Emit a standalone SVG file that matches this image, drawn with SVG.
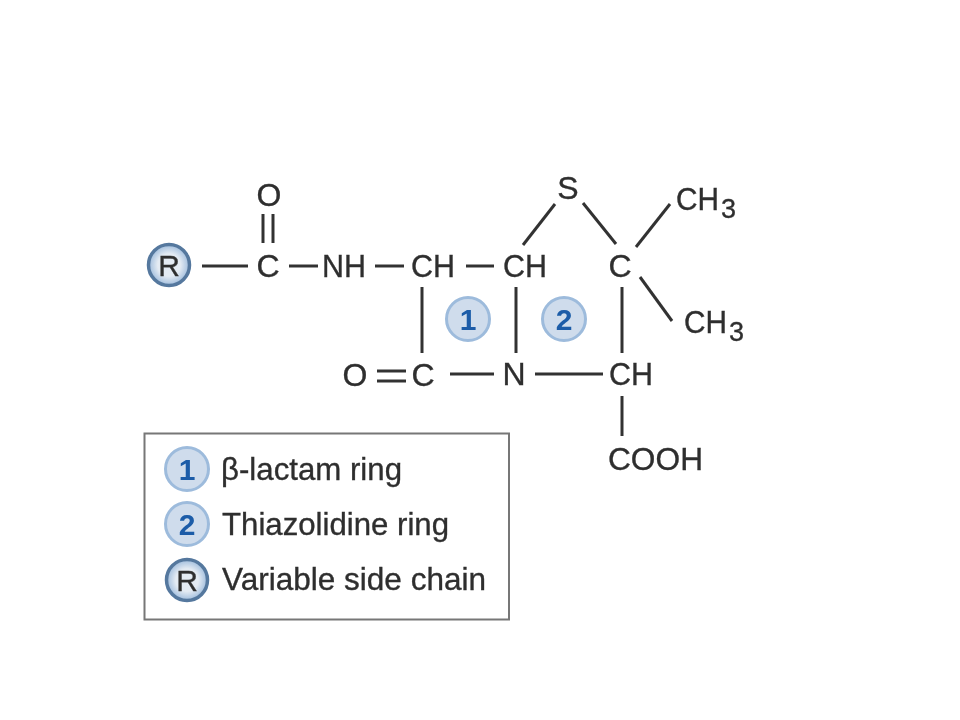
<svg xmlns="http://www.w3.org/2000/svg" width="960" height="720" viewBox="0 0 960 720">
<style>
text{font-family:"Liberation Sans",Arial,sans-serif;fill:#2f2f2f;stroke:#2f2f2f;stroke-width:.35px}
.a{font-size:32px}
.s{font-size:27px}
.l{font-size:32px}
.m{text-anchor:middle}
.n{font-size:30px;font-weight:bold;fill:#1a5ca8;stroke:none;text-anchor:middle}
.r{font-size:30px;text-anchor:middle}
.c{fill:#cfdcec;stroke:#9dbbdc;stroke-width:3}
.d{fill:url(#g);stroke:#55789e;stroke-width:3.5}
#connectors line{stroke:#333;stroke-width:3;fill:none}
</style>
<defs>
<filter id="b" x="-5%" y="-5%" width="110%" height="110%"><feGaussianBlur stdDeviation="0.6"/></filter>
<radialGradient id="g"><stop offset="0.55" stop-color="#e4ebf3"/><stop offset="1" stop-color="#9fbcdc"/></radialGradient>
</defs>
<rect width="960" height="720" fill="#fff"/>
<g filter="url(#b)">
<g id="connectors">
<line x1="202" y1="266" x2="248" y2="266"/>
<line x1="263" y1="214" x2="263" y2="243"/>
<line x1="273" y1="214" x2="273" y2="243"/>
<line x1="289" y1="266" x2="318" y2="266"/>
<line x1="375" y1="266" x2="404" y2="266"/>
<line x1="466" y1="266" x2="494" y2="266"/>
<line x1="422" y1="287" x2="422" y2="353"/>
<line x1="377" y1="371" x2="406" y2="371"/>
<line x1="377" y1="381" x2="406" y2="381"/>
<line x1="450" y1="374" x2="494" y2="374"/>
<line x1="516" y1="287" x2="516" y2="353"/>
<line x1="535" y1="374" x2="603" y2="374"/>
<line x1="622" y1="287" x2="622" y2="353"/>
<line x1="622" y1="396" x2="622" y2="436"/>
<line x1="523" y1="245" x2="555" y2="204"/>
<line x1="583" y1="203" x2="616" y2="244"/>
<line x1="636" y1="247" x2="670" y2="204"/>
<line x1="640" y1="277" x2="672" y2="321"/>
</g>
<g id="node-R"><circle class="d" cx="169" cy="265" r="20.5"/><text class="r" x="169" y="276">R</text></g>
<g id="node-O1"><text class="a m" x="269" y="206">O</text></g>
<g id="node-C1"><text class="a m" x="268" y="277">C</text></g>
<g id="node-NH"><text class="a" x="322" y="277" textLength="44" lengthAdjust="spacingAndGlyphs">NH</text></g>
<g id="node-CH1"><text class="a" x="411" y="277" textLength="44" lengthAdjust="spacingAndGlyphs">CH</text></g>
<g id="node-CH2"><text class="a" x="503" y="277" textLength="44" lengthAdjust="spacingAndGlyphs">CH</text></g>
<g id="node-S"><text class="a m" x="568" y="199">S</text></g>
<g id="node-C2"><text class="a m" x="620" y="277">C</text></g>
<g id="node-CH3a"><text class="a" x="676" y="210"><tspan textLength="43" lengthAdjust="spacingAndGlyphs">CH</tspan><tspan class="s" x="721" y="218">3</tspan></text></g>
<g id="node-CH3b"><text class="a" x="684" y="333"><tspan textLength="43" lengthAdjust="spacingAndGlyphs">CH</tspan><tspan class="s" x="729" y="341">3</tspan></text></g>
<g id="node-O2"><text class="a m" x="355" y="386">O</text></g>
<g id="node-C3"><text class="a m" x="423" y="386">C</text></g>
<g id="node-N"><text class="a m" x="514" y="385">N</text></g>
<g id="node-CH4"><text class="a" x="609" y="385" textLength="44" lengthAdjust="spacingAndGlyphs">CH</text></g>
<g id="node-COOH"><text class="a" x="608" y="470" textLength="95" lengthAdjust="spacingAndGlyphs">COOH</text></g>
<g id="node-1"><circle class="c" cx="468" cy="319" r="21.5"/><text class="n" x="468" y="330">1</text></g>
<g id="node-2"><circle class="c" cx="564" cy="319" r="21.5"/><text class="n" x="564" y="330">2</text></g>
<g id="legend">
<rect x="144.5" y="433.5" width="364.5" height="186" fill="#fff" stroke="#777" stroke-width="2"/>
<circle class="c" cx="187" cy="469" r="21.5"/><text class="n" x="187" y="480">1</text>
<text class="l" x="221" y="480" textLength="181" lengthAdjust="spacingAndGlyphs">β-lactam ring</text>
<circle class="c" cx="187" cy="524" r="21.5"/><text class="n" x="187" y="535">2</text>
<text class="l" x="222" y="535" textLength="227" lengthAdjust="spacingAndGlyphs">Thiazolidine ring</text>
<circle class="d" cx="187" cy="580" r="20.5"/><text class="r" x="187" y="591">R</text>
<text class="l" x="222" y="590" textLength="264" lengthAdjust="spacingAndGlyphs">Variable side chain</text>
</g>
</g>
</svg>
